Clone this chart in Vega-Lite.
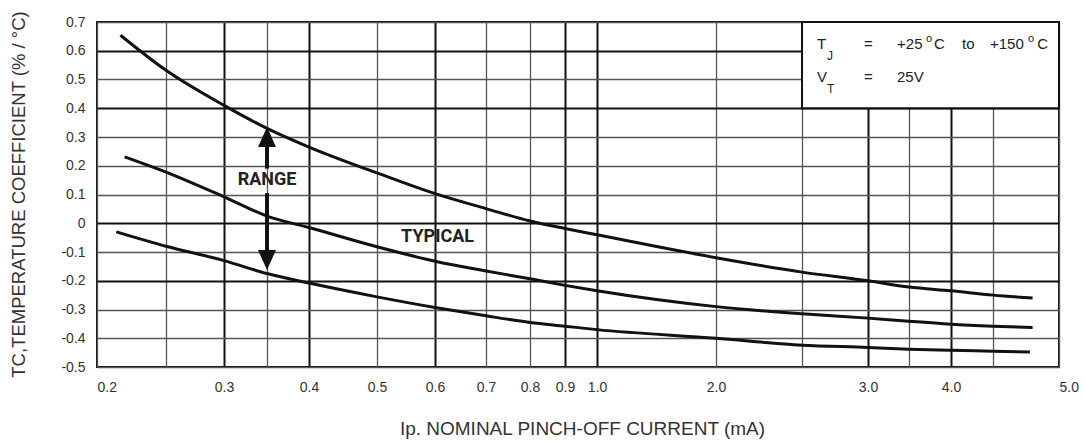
{
  "$schema": "https://vega.github.io/schema/vega-lite/v6.json",
  "width": 962,
  "height": 345,
  "autosize": {"type": "none"},
  "padding": {"left": 97, "top": 22, "right": 27, "bottom": 78},
  "background": "white",
  "config": {"view": {"stroke": "#111", "strokeWidth": 2}, "font": "Liberation Sans"},
  "datasets": {
    "curves": [
      {"series": "max", "x": 0.217, "y": 0.654},
      {"series": "max", "x": 0.25, "y": 0.532},
      {"series": "max", "x": 0.3, "y": 0.41},
      {"series": "max", "x": 0.35, "y": 0.33},
      {"series": "max", "x": 0.4, "y": 0.265},
      {"series": "max", "x": 0.5, "y": 0.175},
      {"series": "max", "x": 0.6, "y": 0.103},
      {"series": "max", "x": 0.7, "y": 0.051},
      {"series": "max", "x": 0.8, "y": 0.008},
      {"series": "max", "x": 0.9, "y": -0.018},
      {"series": "max", "x": 1.0, "y": -0.04},
      {"series": "max", "x": 2.0, "y": -0.12},
      {"series": "max", "x": 2.5, "y": -0.17},
      {"series": "max", "x": 3.0, "y": -0.2},
      {"series": "max", "x": 3.5, "y": -0.222},
      {"series": "max", "x": 4.0, "y": -0.235},
      {"series": "max", "x": 4.5, "y": -0.25},
      {"series": "max", "x": 4.8, "y": -0.26},
      {"series": "typical", "x": 0.22, "y": 0.231},
      {"series": "typical", "x": 0.25, "y": 0.178},
      {"series": "typical", "x": 0.3, "y": 0.092},
      {"series": "typical", "x": 0.35, "y": 0.025},
      {"series": "typical", "x": 0.4, "y": -0.015},
      {"series": "typical", "x": 0.5, "y": -0.082},
      {"series": "typical", "x": 0.6, "y": -0.132},
      {"series": "typical", "x": 0.7, "y": -0.166},
      {"series": "typical", "x": 0.8, "y": -0.193},
      {"series": "typical", "x": 0.9, "y": -0.216},
      {"series": "typical", "x": 1.0, "y": -0.235},
      {"series": "typical", "x": 2.0, "y": -0.29},
      {"series": "typical", "x": 2.5, "y": -0.315},
      {"series": "typical", "x": 3.0, "y": -0.33},
      {"series": "typical", "x": 3.5, "y": -0.341},
      {"series": "typical", "x": 4.0, "y": -0.351},
      {"series": "typical", "x": 4.5, "y": -0.358},
      {"series": "typical", "x": 4.8, "y": -0.363},
      {"series": "min", "x": 0.214, "y": -0.03},
      {"series": "min", "x": 0.25, "y": -0.08},
      {"series": "min", "x": 0.3, "y": -0.13},
      {"series": "min", "x": 0.35, "y": -0.175},
      {"series": "min", "x": 0.4, "y": -0.208},
      {"series": "min", "x": 0.5, "y": -0.256},
      {"series": "min", "x": 0.6, "y": -0.293},
      {"series": "min", "x": 0.7, "y": -0.322},
      {"series": "min", "x": 0.8, "y": -0.345},
      {"series": "min", "x": 0.9, "y": -0.358},
      {"series": "min", "x": 1.0, "y": -0.37},
      {"series": "min", "x": 2.0, "y": -0.4},
      {"series": "min", "x": 2.5, "y": -0.424},
      {"series": "min", "x": 3.0, "y": -0.432},
      {"series": "min", "x": 3.5, "y": -0.438},
      {"series": "min", "x": 4.0, "y": -0.442},
      {"series": "min", "x": 4.5, "y": -0.445},
      {"series": "min", "x": 4.78, "y": -0.448}
    ],
    "box": [{"x": 2.5, "x2": 5, "y": 0.4, "y2": 0.7}],
    "shaft": [
      {"x": 0.35, "y": 0.28, "y2": 0.19},
      {"x": 0.35, "y": 0.105, "y2": -0.115}
    ],
    "heads": [
      {"x": 0.35, "y": 0.30, "dir": "up"},
      {"x": 0.35, "y": -0.128, "dir": "down"}
    ],
    "notes": [
      {"x": 0.35, "y": 0.15, "text": "RANGE"},
      {"x": 0.605, "y": -0.049, "text": "TYPICAL"}
    ],
    "legendText": [
      {"text": "T", "x": 2.614, "y": 0.605, "kind": "main"},
      {"text": "J", "x": 2.689, "y": 0.567, "kind": "sub"},
      {"text": "=", "x": 2.97, "y": 0.605, "kind": "main"},
      {"text": "+25", "x": 3.354, "y": 0.605, "kind": "main"},
      {"text": "o", "x": 3.702, "y": 0.632, "kind": "sup"},
      {"text": "C", "x": 3.798, "y": 0.605, "kind": "main"},
      {"text": "to", "x": 4.131, "y": 0.605, "kind": "main"},
      {"text": "+150", "x": 4.464, "y": 0.605, "kind": "main"},
      {"text": "o", "x": 4.765, "y": 0.632, "kind": "sup"},
      {"text": "C", "x": 4.835, "y": 0.605, "kind": "main"},
      {"text": "V", "x": 2.614, "y": 0.49, "kind": "main"},
      {"text": "T", "x": 2.689, "y": 0.452, "kind": "sub"},
      {"text": "=", "x": 2.97, "y": 0.49, "kind": "main"},
      {"text": "25V", "x": 3.354, "y": 0.49, "kind": "main"}
    ]
  },
  "encoding": {
    "x": {
      "field": "x",
      "type": "quantitative",
      "scale": {
        "type": "linear",
        "domain": [0.2, 0.25, 0.3, 0.35, 0.4, 0.5, 0.6, 0.7, 0.8, 0.9, 1, 2, 2.5, 3, 3.5, 4, 4.5, 5],
        "range": [0, 69, 127, 170, 212, 280, 338, 389, 433, 468, 500, 619, 705, 771, 812, 854, 896, 962],
        "nice": false,
        "zero": false
      },
      "axis": {
        "values": [0.2, 0.25, 0.3, 0.35, 0.4, 0.5, 0.6, 0.7, 0.8, 0.9, 1, 2, 2.5, 3, 3.5, 4, 4.5, 5],
        "labelExpr": "indexof([0.25, 0.35, 2.5, 3.5, 4.5], datum.value) >= 0 ? '' : format(datum.value, '.1f')",
        "ticks": false,
        "domain": false,
        "grid": true,
        "gridColor": {"condition": {"test": "indexof([0.3, 0.4, 0.6, 0.9, 1, 3, 4], datum.value) >= 0", "value": "#111"}, "value": "#555"},
        "gridWidth": {"condition": {"test": "indexof([0.3, 0.4, 0.6, 0.9, 1, 3, 4], datum.value) >= 0", "value": 2}, "value": 1.3},
        "labelFontSize": 14,
        "labelColor": "#333",
        "labelPadding": 13,
        "labelFlush": false,
        "labelOverlap": false,
        "labelAlign": {"condition": {"test": "datum.value === 0.2 || datum.value === 5", "value": "left"}, "value": "center"},
        "title": "Ip. NOMINAL PINCH-OFF CURRENT (mA)",
        "titleFontSize": 19,
        "titleFontWeight": "normal",
        "titleColor": "#333",
        "titleX": 485,
        "titleY": 61,
        "titleAlign": "center",
        "titleBaseline": "middle"
      }
    },
    "y": {
      "field": "y",
      "type": "quantitative",
      "scale": {"domain": [-0.5, 0.7], "nice": false, "zero": false},
      "axis": {
        "values": [-0.5, -0.4, -0.3, -0.2, -0.1, 0, 0.1, 0.2, 0.3, 0.4, 0.5, 0.6, 0.7],
        "labelExpr": "'' + datum.value",
        "ticks": false,
        "domain": false,
        "grid": true,
        "gridColor": {"condition": {"test": "indexof([0.6, 0.4, 0, -0.2], datum.value) >= 0", "value": "#111"}, "value": "#555"},
        "gridWidth": {"condition": {"test": "indexof([0.6, 0.4, 0, -0.2], datum.value) >= 0", "value": 2}, "value": 1.3},
        "labelFontSize": 14,
        "labelColor": "#333",
        "labelPadding": 12,
        "labelOverlap": false,
        "title": "TC,TEMPERATURE COEFFICIENT (% / °C)",
        "titleFontSize": 18.5,
        "titleFontWeight": "normal",
        "titleColor": "#333",
        "titleAngle": -90,
        "titleX": -79,
        "titleY": 172,
        "titleAlign": "center",
        "titleBaseline": "middle"
      }
    }
  },
  "layer": [
    {
      "data": {"name": "box"},
      "mark": {"type": "rect", "fill": "white", "stroke": "#111", "strokeWidth": 2},
      "encoding": {"x2": {"field": "x2"}, "y2": {"field": "y2"}}
    },
    {
      "data": {"name": "curves"},
      "mark": {"type": "line", "color": "#111", "strokeWidth": 3, "interpolate": "monotone"},
      "encoding": {"detail": {"field": "series"}}
    },
    {
      "data": {"name": "shaft"},
      "mark": {"type": "rule", "color": "#111", "strokeWidth": 4},
      "encoding": {"y2": {"field": "y2"}}
    },
    {
      "data": {"name": "heads"},
      "transform": [{"filter": "datum.dir === 'up'"}],
      "mark": {"type": "point", "filled": true, "color": "#111", "opacity": 1, "size": 400, "shape": "M0,-1L0.9,1L-0.9,1Z"},
      "encoding": {}
    },
    {
      "data": {"name": "heads"},
      "transform": [{"filter": "datum.dir === 'down'"}],
      "mark": {"type": "point", "filled": true, "color": "#111", "opacity": 1, "size": 400, "shape": "M0,1L0.9,-1L-0.9,-1Z"},
      "encoding": {}
    },
    {
      "data": {"name": "notes"},
      "mark": {"type": "text", "font": "Roboto", "fontWeight": "bold", "fontSize": 18, "color": "#222", "align": "center", "baseline": "middle"},
      "encoding": {"text": {"field": "text"}}
    },
    {
      "data": {"name": "legendText"},
      "transform": [{"filter": "datum.kind === 'main'"}],
      "mark": {"type": "text", "fontSize": 15, "color": "#222", "align": "left", "baseline": "alphabetic"},
      "encoding": {"text": {"field": "text"}}
    },
    {
      "data": {"name": "legendText"},
      "transform": [{"filter": "datum.kind === 'sub'"}],
      "mark": {"type": "text", "fontSize": 12, "color": "#222", "align": "left", "baseline": "alphabetic"},
      "encoding": {"text": {"field": "text"}}
    },
    {
      "data": {"name": "legendText"},
      "transform": [{"filter": "datum.kind === 'sup'"}],
      "mark": {"type": "text", "fontSize": 11, "color": "#222", "align": "left", "baseline": "alphabetic"},
      "encoding": {"text": {"field": "text"}}
    }
  ]
}
